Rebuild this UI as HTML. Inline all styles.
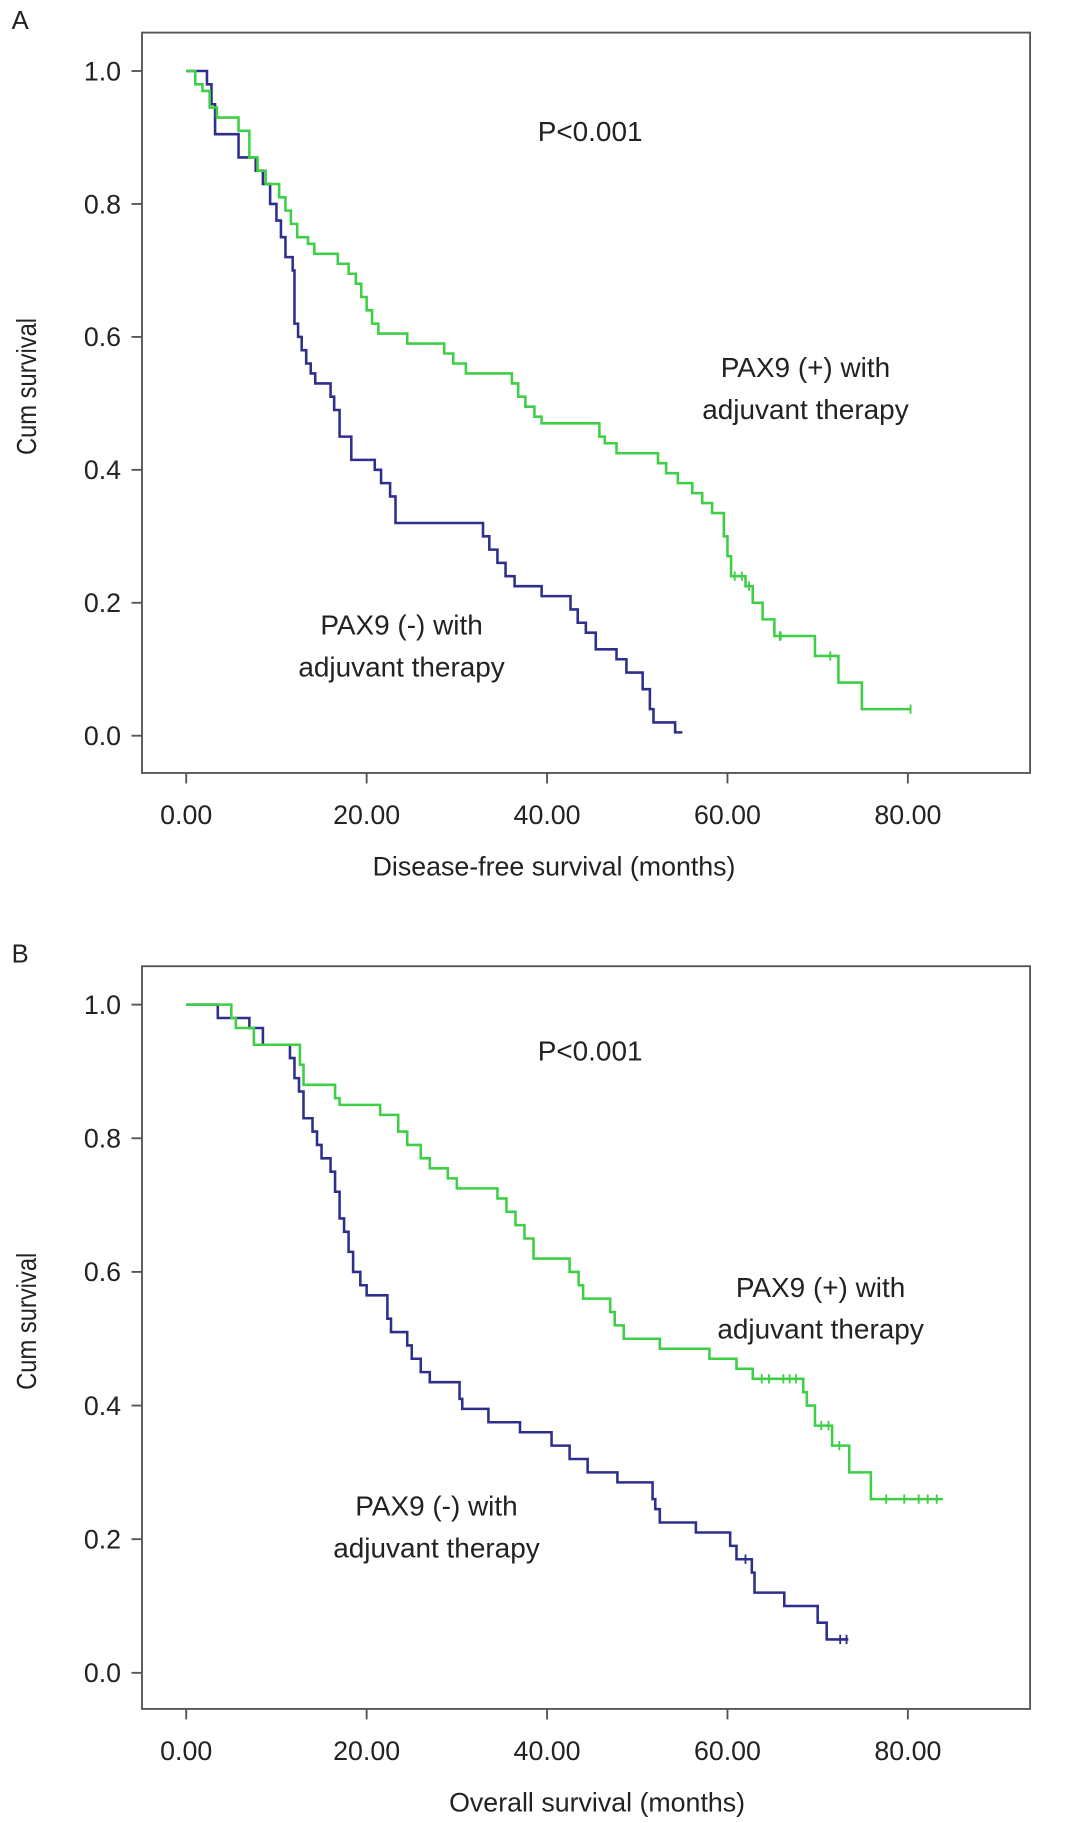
<!DOCTYPE html>
<html><head><meta charset="utf-8"><style>
html,body{margin:0;padding:0;background:#fff;}
svg{display:block;font-family:"Liberation Sans",Arial,sans-serif;}
</style></head><body>
<svg id="fig" width="1065" height="1823" viewBox="0 0 915 1566" preserveAspectRatio="none">
<g id="panelA"></g>
<g id="panelB"></g>
</svg>
<script>
// Shared axis ticks
const xTicks = [0, 20, 40, 60, 80];
const xTickLabels = ["0.00", "20.00", "40.00", "60.00", "80.00"];
const yTicks = [0, 0.2, 0.4, 0.6, 0.8, 1.0];
const yTickLabels = ["0.0", "0.2", "0.4", "0.6", "0.8", "1.0"];

// Panel A: disease-free survival (step start times, survival levels)
const aNegTimes = [0, 2.3, 2.8, 3.2, 5.8, 7.7, 8.5, 9.3, 10.0, 10.5, 11.0, 11.8, 12.0, 12.4, 12.8, 13.3, 13.8, 14.3, 16.0, 16.4, 17.0, 18.3, 20.9, 21.6, 22.6, 23.2, 32.9, 33.6, 34.5, 35.4, 36.4, 37.4, 39.4, 42.6, 43.4, 44.3, 45.4, 47.7, 48.8, 50.6, 51.4, 51.8, 54.2];
const aNegSurv  = [1.0, 0.98, 0.95, 0.905, 0.87, 0.85, 0.83, 0.80, 0.775, 0.75, 0.72, 0.70, 0.62, 0.60, 0.58, 0.56, 0.545, 0.53, 0.51, 0.49, 0.45, 0.415, 0.40, 0.38, 0.36, 0.32, 0.30, 0.28, 0.26, 0.24, 0.225, 0.225, 0.21, 0.19, 0.17, 0.155, 0.13, 0.115, 0.095, 0.07, 0.04, 0.02, 0.005];
const aNegCens  = [];
const aPosTimes = [0, 1.0, 1.8, 2.6, 3.4, 5.8, 7.0, 7.9, 8.8, 10.3, 11.0, 11.6, 12.3, 13.5, 14.2, 16.8, 18.0, 18.8, 19.4, 20.0, 20.6, 21.3, 24.5, 28.6, 29.6, 31.0, 36.1, 36.8, 37.6, 38.6, 39.4, 45.8, 46.4, 47.7, 52.3, 53.2, 54.5, 56.1, 57.2, 58.3, 59.6, 60.0, 60.4, 62.0, 62.8, 63.9, 65.2, 69.7, 72.3, 74.9];
const aPosSurv  = [1.0, 0.98, 0.97, 0.945, 0.93, 0.91, 0.87, 0.85, 0.83, 0.81, 0.79, 0.77, 0.75, 0.74, 0.725, 0.71, 0.695, 0.68, 0.66, 0.64, 0.62, 0.605, 0.59, 0.575, 0.56, 0.545, 0.53, 0.51, 0.495, 0.48, 0.47, 0.45, 0.44, 0.425, 0.41, 0.395, 0.38, 0.365, 0.35, 0.335, 0.30, 0.27, 0.24, 0.225, 0.20, 0.175, 0.15, 0.12, 0.08, 0.04];
const aPosCens  = [60.8, 61.6, 62.4, 65.9, 65.8, 71.4, 80.3];
const aPosEnd = 80.3, aNegEnd = 55.0;

// Panel B: overall survival
const bNegTimes = [0, 3.5, 7.0, 8.5, 11.5, 12.0, 12.5, 13.0, 14.0, 14.5, 15.0, 16.0, 16.5, 17.0, 17.5, 18.0, 18.5, 19.3, 20.0, 22.3, 22.7, 24.5, 25.0, 26.0, 27.0, 30.3, 30.6, 33.5, 37.0, 40.5, 42.5, 44.5, 47.8, 51.7, 52.0, 52.5, 56.5, 60.3, 61.0, 62.7, 63.0, 66.3, 70.0, 71.0];
const bNegSurv  = [1.0, 0.98, 0.965, 0.94, 0.92, 0.89, 0.87, 0.83, 0.81, 0.79, 0.77, 0.75, 0.72, 0.68, 0.66, 0.63, 0.60, 0.58, 0.565, 0.53, 0.51, 0.49, 0.47, 0.45, 0.435, 0.41, 0.395, 0.375, 0.36, 0.34, 0.32, 0.30, 0.285, 0.26, 0.245, 0.225, 0.21, 0.19, 0.17, 0.15, 0.12, 0.10, 0.075, 0.05];
const bNegCens  = [62.0, 72.5, 73.2];
const bPosTimes = [0, 5.0, 5.5, 7.5, 8.5, 12.6, 13.0, 16.5, 17.0, 21.5, 23.5, 24.5, 26.0, 27.0, 29.0, 30.0, 34.5, 35.5, 36.5, 37.5, 38.5, 42.5, 43.5, 44.0, 47.0, 47.5, 48.5, 52.5, 58.0, 61.0, 62.8, 68.4, 68.8, 69.7, 71.6, 73.5, 75.9];
const bPosSurv  = [1.0, 0.98, 0.965, 0.94, 0.94, 0.91, 0.88, 0.86, 0.85, 0.835, 0.81, 0.79, 0.77, 0.755, 0.74, 0.725, 0.71, 0.69, 0.67, 0.65, 0.62, 0.60, 0.58, 0.56, 0.54, 0.52, 0.50, 0.485, 0.47, 0.455, 0.44, 0.42, 0.40, 0.37, 0.34, 0.30, 0.26];
const bPosCens  = [63.8, 64.6, 66.2, 66.9, 67.6, 70.4, 71.2, 72.4, 77.6, 79.6, 81.2, 82.2, 83.2];
const bPosEnd = 83.9, bNegEnd = 73.4;

const NS = "http://www.w3.org/2000/svg";
function mk(tag, attrs, parent) {
  const e = document.createElementNS(NS, tag);
  for (const k in attrs) e.setAttribute(k, attrs[k]);
  parent.appendChild(e);
  return e;
}

function drawPanel(g, cfg) {
  const xS = t => 160 + t * 7.75;
  const yS = s => cfg.y0 - s * (cfg.y0 - cfg.y1);
  const frame = mk("rect", {x: 122, y: cfg.top, width: 763, height: cfg.bottom - cfg.top, fill: "none", stroke: "#555", "stroke-width": 1.6}, g);
  
  
  yTicks.forEach((v, i) => {
    const y = yS(v);
    const t = mk("line", {x1: 113, x2: 122, y1: y, y2: y, stroke: "#555", "stroke-width": 1.6}, g);
    
    
    const l = mk("text", {x: 104, y: y + 8, "text-anchor": "end", "font-size": 23, fill: "#222"}, g);
    l.textContent = yTickLabels[i];
    
    
  });
  xTicks.forEach((v, i) => {
    const x = xS(v);
    const t = mk("line", {x1: x, x2: x, y1: cfg.bottom, y2: cfg.bottom + 9, stroke: "#555", "stroke-width": 1.6}, g);
    
    
    const l = mk("text", {x: x, y: cfg.bottom + 44, "text-anchor": "middle", "font-size": 23, fill: "#222"}, g);
    l.textContent = xTickLabels[i];
    
    
  });
  const xt = mk("text", {x: cfg.xtX, y: cfg.bottom + 88, "text-anchor": "middle", "font-size": 23, fill: "#222"}, g);
  xt.textContent = cfg.xTitle;
  
  
  const cy = (cfg.top + cfg.bottom) / 2 - 14;
  const yt = mk("text", {transform: `translate(31 ${cy}) rotate(-90) scale(0.85 1)`, "text-anchor": "middle", "font-size": 24, fill: "#222"}, g);
  yt.textContent = "Cum survival";
  
  
  const pl = mk("text", {x: 10, y: cfg.top - 3, "font-size": 22, fill: "#222"}, g);
  pl.textContent = cfg.letter;
  
  
  function series(times, surv, end, cens, color, name) {
    let d = `M${xS(times[0])},${yS(surv[0])}`;
    for (let i = 1; i < times.length; i++) {
      d += ` H${xS(times[i])} V${yS(surv[i])}`;
    }
    d += ` H${xS(end)}`;
    const p = mk("path", {d: d, fill: "none", stroke: color, "stroke-width": 2.2}, g);
    
    
    cens.forEach(c => {
      let s = surv[0];
      for (let i = 0; i < times.length; i++) if (times[i] <= c) s = surv[i];
      const m = mk("line", {x1: xS(c), x2: xS(c), y1: yS(s) - 4, y2: yS(s) + 4, stroke: color, "stroke-width": 1.6}, g);
      
      
    });
  }
  series(cfg.negT, cfg.negS, cfg.negE, cfg.negC, "#2e2f8c", "pax9-negative-curve");
  series(cfg.posT, cfg.posS, cfg.posE, cfg.posC, "#3fcf47", "pax9-positive-curve");
  const ann = [
    [cfg.pX, cfg.pY, "P<0.001", "p-value-label"],
    [cfg.posLX, cfg.posLY, "PAX9 (+) with", "pax9-positive-label"],
    [cfg.posLX, cfg.posLY + 36, "adjuvant therapy", "pax9-positive-label-line2"],
    [cfg.negLX, cfg.negLY, "PAX9 (-) with", "pax9-negative-label"],
    [cfg.negLX, cfg.negLY + 36, "adjuvant therapy", "pax9-negative-label-line2"]
  ];
  ann.forEach(a => {
    const t = mk("text", {x: a[0], y: a[1], "text-anchor": "middle", "font-size": 24, fill: "#222"}, g);
    t.textContent = a[2];
    
    
  });
}

drawPanel(document.getElementById("panelA"), {
  top: 28, bottom: 664, y0: 632, y1: 61, letter: "A",
  xTitle: "Disease-free survival (months)", xtX: 476,
  negT: aNegTimes, negS: aNegSurv, negE: aNegEnd, negC: aNegCens,
  posT: aPosTimes, posS: aPosSurv, posE: aPosEnd, posC: aPosCens,
  pX: 507, pY: 121, posLX: 692, posLY: 324, negLX: 345, negLY: 545
});
drawPanel(document.getElementById("panelB"), {
  top: 830, bottom: 1468, y0: 1437, y1: 863, letter: "B",
  xTitle: "Overall survival (months)", xtX: 513,
  negT: bNegTimes, negS: bNegSurv, negE: bNegEnd, negC: bNegCens,
  posT: bPosTimes, posS: bPosSurv, posE: bPosEnd, posC: bPosCens,
  pX: 507, pY: 911, posLX: 705, posLY: 1114, negLX: 375, negLY: 1302
});
</script>
</body></html>
